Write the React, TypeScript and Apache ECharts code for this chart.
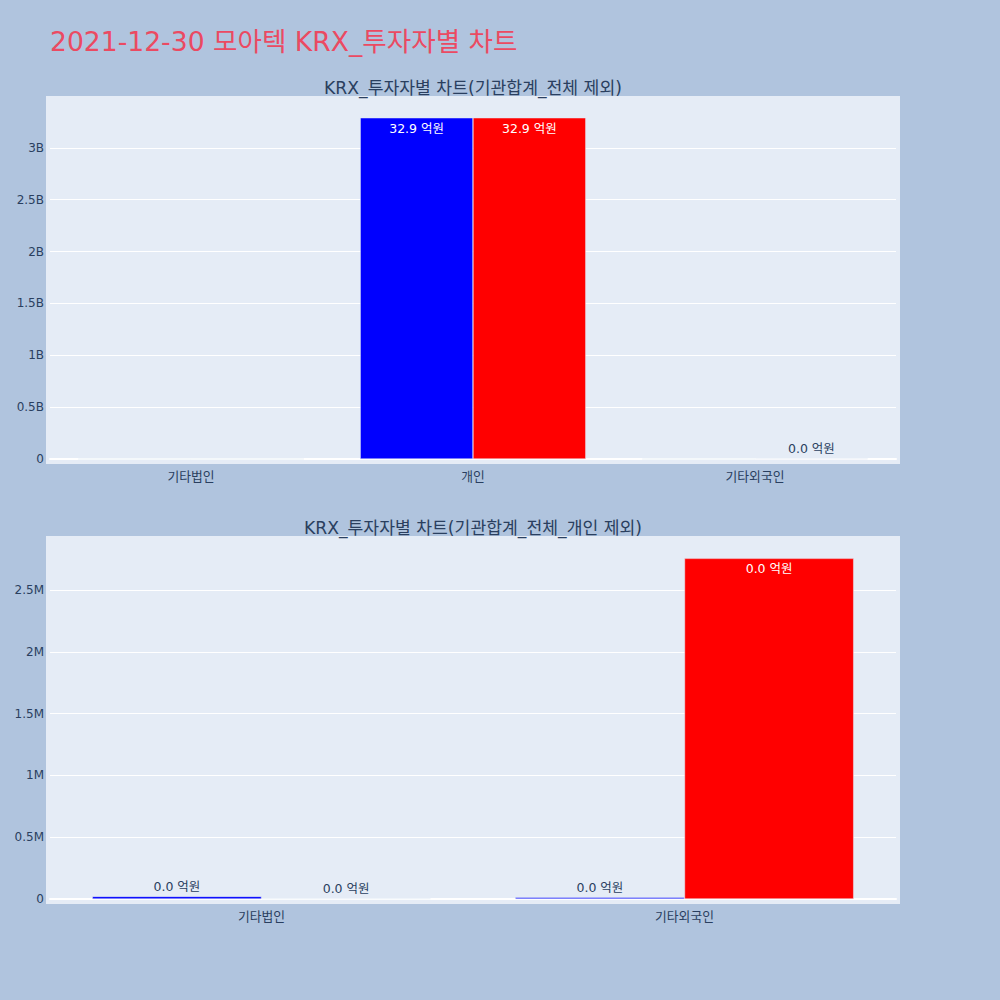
import React, { useEffect, useRef } from "react";
import * as echarts from "echarts";

// ---- data ----
const mainTitle = "2021-12-30 모아텍 KRX_투자자별 차트";
const topTitle = "KRX_투자자별 차트(기관합계_전체 제외)";
const bottomTitle = "KRX_투자자별 차트(기관합계_전체_개인 제외)";
const categories = ["기타법인", "개인", "기타외국인"];
const sellValues = [21000, 3290000000, 14000]; // blue
const buyValues = [4000, 3290000000, 2756000]; // red
const excludedInBottom = "개인";

const FONT = '"DejaVu Sans", "Noto Sans CJK KR", sans-serif';
const TXT = "#2a3f5f";

const fmtEok = (v: number) => `${(v / 1e8).toFixed(1)} 억원`;

function makeItems(values: number[], axisMax: number, minShow: number) {
  return values.map((v) => {
    const inside = v >= axisMax * 0.5;
    return {
      value: v,
      label: {
        show: v >= minShow,
        position: inside ? "insideTop" : "top",
        distance: 4,
        color: inside ? "#ffffff" : TXT,
        fontSize: 12.5,
        fontFamily: FONT,
        formatter: (p: any) => fmtEok(p.value),
      },
    };
  });
}

export default function App() {
  const ref = useRef<HTMLDivElement>(null);
  useEffect(() => {
    document.body.style.margin = "0";
    const chart = echarts.init(ref.current!, null, { renderer: "svg" });

    const bottomCats = categories.filter((c) => c !== excludedInBottom);
    const bottomSell = categories
      .map((c, i) => (c !== excludedInBottom ? sellValues[i] : null))
      .filter((v) => v !== null) as number[];
    const bottomBuy = categories
      .map((c, i) => (c !== excludedInBottom ? buyValues[i] : null))
      .filter((v) => v !== null) as number[];

    const topMin = -0.048e9, topMax = 3.49e9;
    const botMin = -0.0405e6, botMax = 2.937e6;

    const yAxisBase = (fmt: (v: number) => string) => ({
      type: "value",
      splitNumber: 7,
      axisLine: { show: false },
      axisTick: { show: false },
      axisLabel: { color: TXT, fontSize: 12, fontFamily: FONT, margin: 6, formatter: fmt },
      splitLine: { show: true, showMinLine: false, showMaxLine: false, lineStyle: { color: "#ffffff", width: 1 } },
    });

    const xAxisBase = (cats: string[], gridIndex: number) => ({
      type: "category",
      gridIndex,
      data: cats,
      axisLine: { show: true, onZero: true, lineStyle: { color: "#ffffff", width: 2 } },
      axisTick: { show: false },
      axisLabel: { color: TXT, fontSize: 12.8, fontFamily: FONT, margin: 6 },
      splitLine: { show: false },
    });

    const fmtB = (v: number) => {
      if (Math.abs(v) < 1) return "0";
      if (v < 0 || v > 3.2e9) return "";
      return `${+(v / 1e9).toFixed(1)}B`;
    };
    const fmtM = (v: number) => {
      if (Math.abs(v) < 1e-3) return "0";
      if (v < 0 || v > 2.6e6) return "";
      return `${+(v / 1e6).toFixed(1)}M`;
    };

    const barStyle = (color: string) => ({ color, borderColor: "#E5ECF6", borderWidth: 0.5 });

    chart.setOption({
      animation: false,
      backgroundColor: "#B0C4DE",
      textStyle: { fontFamily: FONT },
      title: {
        text: mainTitle,
        left: 45,
        top: 23,
        textStyle: { color: "#EB4A62", fontSize: 26.6, fontWeight: "normal", fontFamily: FONT },
      },
      graphic: [
        { type: "rect", z: -10, shape: { x: 46, y: 96, width: 854, height: 368 }, style: { fill: "#E5ECF6" } },
        { type: "rect", z: -10, shape: { x: 46, y: 536, width: 854, height: 368 }, style: { fill: "#E5ECF6" } },
        { type: "text", z: 10, x: 473, y: 88, style: { text: topTitle, fill: TXT, fontSize: 17.2, fontFamily: FONT, align: "center", verticalAlign: "middle" } },
        { type: "text", z: 10, x: 473, y: 528, style: { text: bottomTitle, fill: TXT, fontSize: 17.2, fontFamily: FONT, align: "center", verticalAlign: "middle" } },
      ],
      grid: [
        { left: 50, width: 846, top: 97, height: 367 },
        { left: 50, width: 846, top: 536, height: 368 },
      ],
      xAxis: [xAxisBase(categories, 0), xAxisBase(bottomCats, 1)],
      yAxis: [
        { ...yAxisBase(fmtB), gridIndex: 0, min: topMin, max: topMax },
        { ...yAxisBase(fmtM), gridIndex: 1, min: botMin, max: botMax, splitNumber: 6 },
      ],
      series: [
        {
          name: "매도", type: "bar", xAxisIndex: 0, yAxisIndex: 0,
          barGap: "0%", barCategoryGap: "20%",
          itemStyle: barStyle("#0000FF"),
          data: makeItems(sellValues, topMax, 1e6),
        },
        {
          name: "매수", type: "bar", xAxisIndex: 0, yAxisIndex: 0,
          barGap: "0%", barCategoryGap: "20%",
          itemStyle: barStyle("#FF0000"),
          data: makeItems(buyValues, topMax, 1e6),
        },
        {
          name: "매도", type: "bar", xAxisIndex: 1, yAxisIndex: 1,
          barGap: "0%", barCategoryGap: "20%",
          itemStyle: barStyle("#0000FF"),
          data: makeItems(bottomSell, botMax, 0),
        },
        {
          name: "매수", type: "bar", xAxisIndex: 1, yAxisIndex: 1,
          barGap: "0%", barCategoryGap: "20%",
          itemStyle: barStyle("#FF0000"),
          data: makeItems(bottomBuy, botMax, 0),
        },
      ],
    });
    return () => chart.dispose();
  }, []);
  return <div ref={ref} style={{ width: 1000, height: 1000 }} />;
}
